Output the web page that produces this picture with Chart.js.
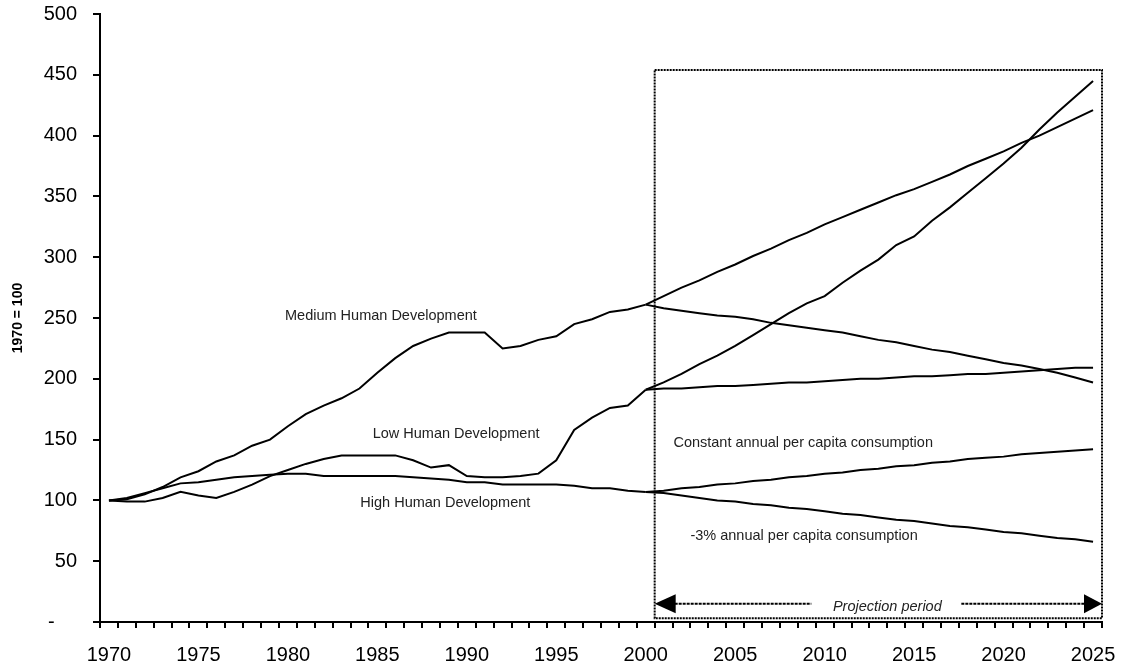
<!DOCTYPE html>
<html>
<head>
<meta charset="utf-8">
<script src="https://cdn.jsdelivr.net/npm/chart.js@4.4.1/dist/chart.umd.min.js"></script>
<style>
body { margin: 0; background: #fff; }
#wrap { width: 1124px; height: 667px; }
</style>
</head>
<body>
<div id="wrap"><canvas id="myChart" width="1124" height="667"></canvas></div>
<script>
var years = [1970, 1971, 1972, 1973, 1974, 1975, 1976, 1977, 1978, 1979,
    1980, 1981, 1982, 1983, 1984, 1985, 1986, 1987, 1988, 1989,
    1990, 1991, 1992, 1993, 1994, 1995, 1996, 1997, 1998, 1999,
    2000, 2001, 2002, 2003, 2004, 2005, 2006, 2007, 2008, 2009,
    2010, 2011, 2012, 2013, 2014, 2015, 2016, 2017, 2018, 2019,
    2020, 2021, 2022, 2023, 2024, 2025];

// 1970 - 2000
var mediumHist = [100, 101, 105, 111, 119, 124, 132, 137, 145, 150, 161, 171, 178, 184, 192, 205,
    217, 227, 233, 238, 238, 238, 225, 227, 232, 235, 245, 249, 255, 257, 261];
var lowHist = [100, 99, 99, 102, 107, 104, 102, 107, 113, 120, 125, 130, 134, 137, 137, 137,
    137, 133, 127, 129, 120, 119, 119, 120, 122, 133, 158, 168, 176, 178, 191];
var highHist = [100, 102, 106, 110, 114, 115, 117, 119, 120, 121, 122, 122, 120, 120, 120, 120,
    120, 119, 118, 117, 115, 115, 113, 113, 113, 113, 112, 110, 110, 108, 107];

// 2000 - 2025 projections
var mediumConst = [261, 268, 275, 281, 288, 294, 301, 307, 314, 320, 327, 333, 339, 345, 351, 356,
    362, 368, 375, 381, 387, 394, 400, 407, 414, 421];
var mediumMinus3 = [261, 258, 256, 254, 252, 251, 249, 246, 244, 242, 240, 238, 235, 232, 230, 227,
    224, 222, 219, 216, 213, 211, 208, 205, 201, 197];
var lowConst = [191, 197, 204, 212, 219, 227, 236, 245, 254, 262, 268, 279, 289, 298, 310, 317,
    330, 341, 353, 365, 377, 390, 405, 419, 432, 445];
var lowMinus3 = [191, 192, 192, 193, 194, 194, 195, 196, 197, 197, 198, 199, 200, 200, 201, 202,
    202, 203, 204, 204, 205, 206, 207, 208, 209, 209];
var highConst = [107, 108, 110, 111, 113, 114, 116, 117, 119, 120, 122, 123, 125, 126, 128, 129,
    131, 132, 134, 135, 136, 138, 139, 140, 141, 142];
var highMinus3 = [107, 106, 104, 102, 100, 99, 97, 96, 94, 93, 91, 89, 88, 86, 84, 83,
    81, 79, 78, 76, 74, 73, 71, 69, 68, 66];

var yTicks = [0, 50, 100, 150, 200, 250, 300, 350, 400, 450, 500];

// series labels: text, year index, value
var lineLabels = [
    ['Medium Human Development', 15.2, 252],
    ['Low Human Development', 19.4, 155],
    ['High Human Development', 18.8, 98],
    ['Constant annual per capita consumption', 38.8, 147],
    ['-3% annual per capita consumption', 38.85, 71]
];
var projStart = 2000;
var boxTop = 454;
var arrowValue = 15;

var font = '"Liberation Sans", Arial, sans-serif';
var ctx = document.getElementById("myChart");

function history(arr) {
    var out = [];
    for (var i = 0; i < years.length; i++) out.push(i < arr.length ? arr[i] : null);
    return out;
}
function projection(arr) {
    var start = years.indexOf(projStart);
    var out = [];
    for (var i = 0; i < years.length; i++) out.push(i >= start ? arr[i - start] : null);
    return out;
}
function line(data) {
    return { data: data, borderColor: '#000', borderWidth: 2, pointRadius: 0, tension: 0, fill: false };
}

var projectionPlugin = {
    id: 'projectionPlugin',
    afterDatasetsDraw: function (chart) {
        var c = chart.ctx;
        var x = chart.scales.x;
        var y = chart.scales.y;
        var left = x.getPixelForValue(years.indexOf(projStart) + 0.5);
        var right = x.getPixelForValue(years.length - 0.5);
        var top = y.getPixelForValue(boxTop);
        var bottom = y.getPixelForValue(3);
        c.save();
        c.strokeStyle = '#000';
        c.lineWidth = 2;
        c.setLineDash([2, 1]);
        c.strokeRect(left, top, right - left, bottom - top);

        // arrow
        var ay = y.getPixelForValue(arrowValue);
        var mid = (left + right) / 2 + 9;
        c.setLineDash([3, 1]);
        c.beginPath();
        c.moveTo(left + 20, ay); c.lineTo(mid - 76, ay);
        c.moveTo(mid + 74, ay); c.lineTo(right - 18, ay);
        c.stroke();
        c.setLineDash([]);
        c.fillStyle = '#000';
        c.beginPath();
        c.moveTo(left, ay); c.lineTo(left + 21, ay - 9.5); c.lineTo(left + 21, ay + 9.5); c.closePath();
        c.fill();
        c.beginPath();
        c.moveTo(right, ay); c.lineTo(right - 18, ay - 9.5); c.lineTo(right - 18, ay + 9.5); c.closePath();
        c.fill();
        c.font = 'italic 14.5px ' + font;
        c.textAlign = 'center';
        c.textBaseline = 'middle';
        c.fillStyle = '#222';
        c.fillText('Projection period', mid, ay + 3);

        c.font = '14.5px ' + font;
        lineLabels.forEach(function (l) {
            c.fillText(l[0], x.getPixelForValue(l[1]), y.getPixelForValue(l[2]));
        });
        c.restore();
    }
};

var myChart = new Chart(ctx, {
    type: 'line',
    data: {
        labels: years,
        datasets: [
            line(history(mediumHist)),
            line(history(lowHist)),
            line(history(highHist)),
            line(projection(mediumConst)),
            line(projection(mediumMinus3)),
            line(projection(lowConst)),
            line(projection(lowMinus3)),
            line(projection(highConst)),
            line(projection(highMinus3))
        ]
    },
    options: {
        responsive: false,
        animation: false,
        layout: { padding: { top: 14, right: 22, bottom: 0, left: 0 } },
        plugins: { legend: { display: false }, tooltip: { enabled: false } },
        scales: {
            x: {
                offset: true,
                afterFit: function (s) { s.height = 45; s.paddingLeft = 0; s.paddingRight = 0; },
                grid: { offset: true, drawOnChartArea: false, drawTicks: true, tickLength: 6, color: '#000', lineWidth: 2 },
                border: { display: true, color: '#000', width: 2 },
                ticks: {
                    autoSkip: false, maxRotation: 0, padding: 15, color: '#000',
                    font: { family: font, size: 20 },
                    callback: function (v, i) { return years[i] % 5 === 0 ? String(years[i]) : ''; }
                }
            },
            y: {
                min: 0, max: 500,
                afterBuildTicks: function (s) { s.ticks = yTicks.map(function (v) { return { value: v }; }); },
                afterFit: function (s) { s.width = 100; s.paddingTop = 0; s.paddingBottom = 0; },
                grid: { drawOnChartArea: false, drawTicks: true, tickLength: 7, color: '#000', lineWidth: 2 },
                border: { display: true, color: '#000', width: 2 },
                ticks: {
                    padding: 16, color: '#000',
                    font: { family: font, size: 20 },
                    callback: function (v) { return v === 0 ? '-    ' : v; }
                },
                title: {
                    display: true, text: '1970 = 100', color: '#000',
                    font: { family: font, size: 14, weight: 'bold' },
                    padding: { top: 10, bottom: 0 }
                }
            }
        }
    },
    plugins: [projectionPlugin]
});
</script>
</body>
</html>
